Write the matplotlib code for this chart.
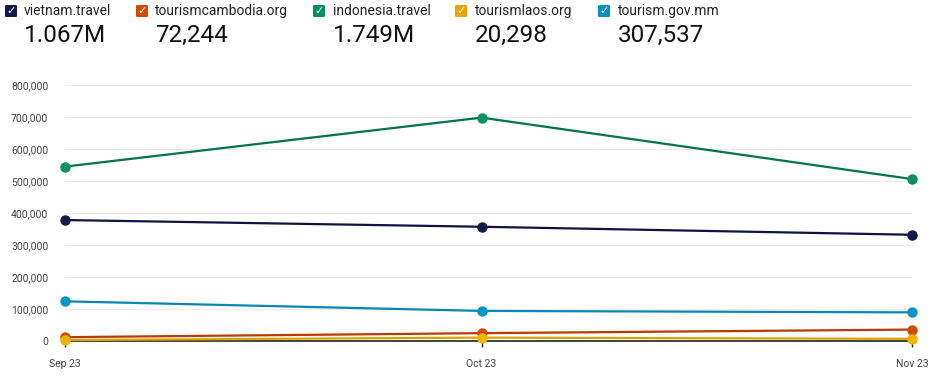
import matplotlib.pyplot as plt
from matplotlib.patches import FancyBboxPatch
from matplotlib.ticker import FuncFormatter

plt.rcParams['font.family'] = ['Roboto', 'DejaVu Sans']

months = ["Sep 23", "Oct 23", "Nov 23"]
month_days = [0, 30, 61]  # days since Sep 1
sites = ["vietnam.travel", "tourismcambodia.org", "indonesia.travel", "tourismlaos.org", "tourism.gov.mm"]
totals = ["1.067M", "72,244", "1.749M", "20,298", "307,537"]
vietnam = [378000, 357000, 332000]
cambodia = [12000, 24500, 35700]
indonesia = [545000, 698000, 506000]
laos = [3000, 10500, 6800]
myanmar = [124000, 94000, 89500]
series = [vietnam, cambodia, indonesia, laos, myanmar]
box_colors = ["#121a47", "#d14b06", "#0b9160", "#eaa300", "#0a90bf"]
line_colors = ["#0d1440", "#b83a00", "#00744a", "#e0a000", "#0a86b3"]
marker_colors = ["#121a47", "#d14b06", "#0b9160", "#f2b400", "#0a95c4"]

fig = plt.figure(figsize=(9.42, 3.77), dpi=100)
ax = fig.add_axes([65/942, 1 - 341/377, (912 - 65)/942, (341 - 85)/377])

# draw smallest last so it sits on top like the reference
order = [2, 0, 4, 1, 3]
for i in order:
    ax.plot(month_days, series[i], color=line_colors[i], lw=1.6, zorder=3 + i, clip_on=False)
    ax.plot(month_days, series[i], 'o', color=marker_colors[i], ms=6.5, zorder=4 + i, clip_on=False)

ax.set_xlim(month_days[0], month_days[-1])
ax.set_ylim(0, 800000)
ax.set_yticks(range(0, 800001, 100000))
ax.yaxis.set_major_formatter(FuncFormatter(lambda v, p: f"{int(v):,}"))
ax.set_xticks(month_days)
ax.set_xticklabels(months)
ax.grid(axis='y', color='#ececec', lw=0.8)
ax.set_axisbelow(True)
for s in ['top', 'right', 'left']:
    ax.spines[s].set_visible(False)
ax.spines['bottom'].set_color('#222222')
ax.spines['bottom'].set_linewidth(1.2)
ax.tick_params(axis='y', length=0, pad=12, labelsize=7.5, labelcolor='#444444')
ax.tick_params(axis='x', length=4, width=1, color='#222222', pad=9, labelsize=7.5, labelcolor='#444444')

# legend header with check boxes and totals
box_x = [5, 136, 313, 455, 598]
text_x = [24, 155, 333, 475, 618]
for i in range(5):
    bx = box_x[i] / 942
    by = 1 - 17 / 377
    fig.patches.append(FancyBboxPatch((bx, by), 12 / 942, 12 / 377, boxstyle="round,pad=0,rounding_size=0.002",
                                      transform=fig.transFigure, facecolor=box_colors[i], edgecolor='none'))
    fig.text((box_x[i] + 6) / 942, 1 - 11 / 377, "✓", color='white', fontsize=8, fontweight='bold',
             ha='center', va='center', family=['DejaVu Sans'])
    fig.text(text_x[i] / 942, 1 - 11 / 377, sites[i], fontsize=10, color='#222222', va='center', ha='left')
    fig.text(text_x[i] / 942, 1 - 35 / 377, totals[i], fontsize=17.5, color='#111111', va='center', ha='left')

fig.savefig("out.png", dpi=100)
